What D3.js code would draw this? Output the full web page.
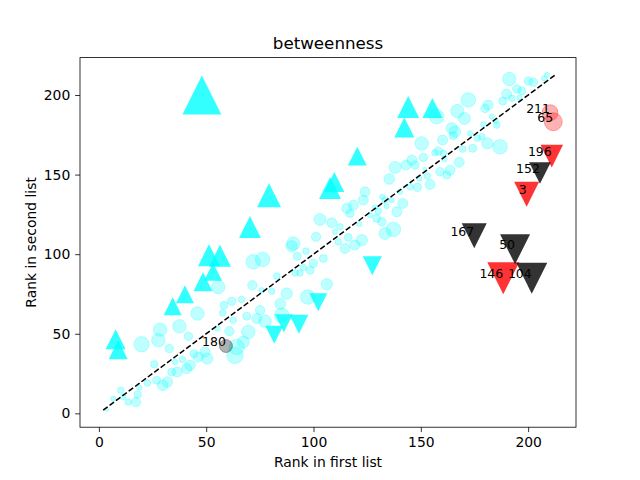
<!DOCTYPE html>
<html>
<head>
<meta charset="utf-8">
<script src="https://cdn.jsdelivr.net/npm/d3@7"></script>
<style>
  body { margin: 0; background: #fff; }
  text { font-family: "DejaVu Sans", sans-serif; }
</style>
</head>
<body>
<svg id="chart" width="640" height="480"></svg>
<script>
// [rank in first list, rank in second list, weight]
var circlePoints = [
  [45.9,62.7,45],[37.5,54.7,45],[28.5,52.6,45],[27.7,45.9,45],[19.9,43.4,59],[41.7,48.4,18],[32.8,40.7,18],
  [25.8,30.8,14],[22.6,19.1,11],[26.9,20.8,16],[29.7,17.6,28],[31.9,19.7,28],[33.9,26,16],[36.5,26,25],
  [35.5,32.3,7],[38.9,33.8,11],[40.9,28.1,25],[42.5,30.2,28],[44.3,37.5,16],[46.3,35.4,25],[49.4,38.6,25],
  [50.5,34.4,32],[10.2,14.5,11],[6.7,9.2,7],[11.4,10.3,9],[13.7,7.1,11],[17.3,7.1,22],[18.1,11.8,14],
  [18.8,16.2,7],[3.6,2.5,4],[57.7,63.1,11],
  [71.9,95.2,53],[76.3,96.7,53],[55.6,79.4,45],[58.3,67.9,16],[61.9,70.4,18],[66.5,71.5,11],[62.6,58.5,11],
  [68.9,61,16],[73.5,59.6,25],[77.4,57.9,40],[75.1,64.8,22],[82.9,86.2,11],[80.5,76.7,11],[84.5,68.8,30],
  [60.8,51.6,22],[69.6,51.1,45],[67.3,44.8,36],[64.2,41.7,59],[63.4,36.5,69],[55.2,53.3,7],
  [90.6,106.7,45],[89.8,105,32],[101.2,110.9,22],[92.4,98.7,16],[96.5,101.9,11],[104.6,97.3,16],
  [99.9,94.2,18],[98.4,89.9,16],[95.2,91.6,11],[93.7,88.2,11],[91.4,88.2,11],[106.2,81.1,32],
  [97.3,73.1,53],[87.5,75.3,32],[75.8,77.4,7],[71.5,80.5,22],[85.2,61.6,53],
  [150.4,169.6,45],[151.2,160.8,18],[145.8,159.1,25],[147.3,156,18],[143.1,156,25],[138,154.5,36],
  [135.3,147.2,28],[153,149.1,11],[149.3,147.6,7],[148.4,142,18],[145,142.3,11],[140.3,139.2,7],
  [141.6,131.9,25],[138.8,126.6,25],[136.4,134,7],[134.1,130.2,7],[133.3,134,11],[124,139.2,25],
  [123.2,134,25],[118.6,130.8,25],[115.5,128.7,25],[117,125.6,16],[126.3,124.5,7],[129.4,122.5,16],
  [131.8,120.3,18],[137.2,115.5,53],[133.3,113,36],[121.3,118.9,7],[112.3,117.2,11],[103,121.8,36],
  [108.5,119.7,25],[110,114,7],[116.2,110.5,16],[111.6,107.7,11],[114.7,103.6,25],[119.3,105.7,25],
  [122.5,108.8,32],
  [156.6,163.7,11],[160.5,163.3,11],[158.9,151.8,18],[162.1,149.7,16],[132,136,7],[128.7,129.4,7],[130.2,127,11],
  [191.2,210.1,45],[200.1,208.8,18],[202.4,208,18],[208.7,212.6,7],[207.4,210.5,7],[194.7,203.8,18],
  [197,202.5,16],[190,200.6,25],[188.2,196.2,16],[192.4,197.9,11],[195.9,198.3,7],[172.1,196.9,53],
  [181.4,193.7,25],[179.9,191.6,18],[167,189.9,45],[170.3,185.3,36],[157.4,186.4,53],[183,186.4,7],
  [185,183.6,7],[185.4,181.1,11],[179.1,181.6,7],[164.4,179.1,32],[165.9,176.9,32],[165.1,174.4,16],
  [172.9,175.9,7],[176.3,172.8,11],[178.4,173.8,11],[181,169.6,32],[186.9,167.5,53],[160.2,171.7,25],
  [158.1,164.8,18],[161,159.6,7],[169.5,166,11],[174.2,166.5,16],[167.9,157.7,25],[163.6,152.8,25],
  [154.3,143.8,25],[151.9,153.5,3]
];

var risePoints = [
  [48,200,380],[79.3,137,144],[70.4,117,121],[51.3,99.4,121],[56.4,99,121],[53.2,89,81],[48.5,82.7,90],
  [40.1,74.8,81],[34.4,67.3,81],[7.8,46.5,100],[9,40,90],[120.4,161.6,90],[107.7,141.5,121],
  [109.7,145.3,100],[144.1,192.5,121],[142.3,179.6,100],[155.4,191.8,100]
];

var fallPoints = [
  [127.4,92.8,90],[102.2,69.8,81],[81.7,49.4,81],[86.2,56.6,81],[93.2,56,90]
];

// labelled nodes
var flagLabels = ["196", "3", "146", "152", "167", "50", "104"];
var flagFirst  = [211, 199.3, 188.4, 205.5, 174.9, 193.9, 201.7];
var flagSecond = [161.6, 137.7, 84.9, 151, 111.6, 103.1, 84.9];
var flagWeight = [128, 156, 256, 118, 156, 225, 240];
var flagGroup  = ["a", "a", "a", "b", "b", "b", "b"];

var markLabels = ["211", "65", "180"];
var markFirst  = [210.2, 211.7, 59.2];
var markSecond = [188.9, 183.2, 42.3];
var markWeight = [64, 81, 42];
var markGroup  = ["a", "a", "b"];

var xTicks = [0, 50, 100, 150, 200];
var yTicks = [0, 50, 100, 150, 200];
var diagonal = [2, 212.5];

var svg = d3.select("#chart");
var margin = { top: 57.6, right: 64, bottom: 52.8, left: 80 },
    width = 640 - margin.left - margin.right,
    height = 480 - margin.top - margin.bottom;

var x = d3.scaleLinear().domain([-8.8, 222.3]).range([0, width]),
    y = d3.scaleLinear().domain([-8.7, 223.5]).range([height, 0]),
    size = d3.scaleSqrt().domain([0, 100]).range([0, 10]);

var groupColor = d3.scaleOrdinal().domain(["a", "b"]).range(["#ff0000", "#000000"]);

var g = svg.append("g")
    .attr("transform", "translate(" + margin.left + "," + margin.top + ")");

function triangle(cx, cy, h, up) {
  var s = up ? 1 : -1;
  return "M" + cx + "," + (cy - s * h) +
         "L" + (cx - h) + "," + (cy + s * h) +
         "L" + (cx + h) + "," + (cy + s * h) + "Z";
}

g.selectAll(".dot")
  .data(circlePoints)
  .enter().append("circle")
    .attr("class", "dot")
    .attr("cx", function(d) { return x(d[0]); })
    .attr("cy", function(d) { return y(d[1]); })
    .attr("r", function(d) { return size(d[2]); })
    .attr("fill", "#00ffff").attr("fill-opacity", 0.25)
    .attr("stroke", "#00ffff").attr("stroke-opacity", 0.25).attr("stroke-width", 1);

g.append("path")
    .attr("d", d3.line()([[x(diagonal[0]), y(diagonal[0])], [x(diagonal[1]), y(diagonal[1])]]))
    .attr("stroke", "#000").attr("stroke-width", 1.5)
    .attr("stroke-dasharray", "5.55,2.4").attr("fill", "none");

g.selectAll(".rise")
  .data(risePoints)
  .enter().append("path")
    .attr("class", "rise")
    .attr("d", function(d) { return triangle(x(d[0]), y(d[1]), size(d[2]), true); })
    .attr("fill", "#00ffff").attr("fill-opacity", 0.8);

g.selectAll(".fall")
  .data(fallPoints)
  .enter().append("path")
    .attr("class", "fall")
    .attr("d", function(d) { return triangle(x(d[0]), y(d[1]), size(d[2]), false); })
    .attr("fill", "#00ffff").attr("fill-opacity", 0.8);

var marks = markLabels.map(function(l, i) {
  return { label: l, a: markFirst[i], b: markSecond[i], w: markWeight[i], grp: markGroup[i] };
});
var flags = flagLabels.map(function(l, i) {
  return { label: l, a: flagFirst[i], b: flagSecond[i], w: flagWeight[i], grp: flagGroup[i] };
});

g.selectAll(".mark")
  .data(marks)
  .enter().append("circle")
    .attr("class", "mark")
    .attr("cx", function(d) { return x(d.a); })
    .attr("cy", function(d) { return y(d.b); })
    .attr("r", function(d) { return size(d.w); })
    .attr("fill", function(d) { return groupColor(d.grp); })
    .attr("fill-opacity", 0.3)
    .attr("stroke", function(d) { return groupColor(d.grp); })
    .attr("stroke-opacity", 0.3);

g.selectAll(".flag")
  .data(flags)
  .enter().append("path")
    .attr("class", "flag")
    .attr("d", function(d) { return triangle(x(d.a), y(d.b), size(d.w), false); })
    .attr("fill", function(d) { return groupColor(d.grp); })
    .attr("fill-opacity", 0.8);

g.selectAll(".lbl")
  .data(marks.concat(flags))
  .enter().append("text")
    .attr("class", "lbl")
    .attr("x", function(d) { return x(d.a); })
    .attr("y", function(d) { return y(d.b); })
    .attr("text-anchor", "end")
    .style("font-size", "12.5px")
    .text(function(d) { return d.label; });

var xAxis = g.append("g")
    .attr("transform", "translate(0," + height + ")")
    .call(d3.axisBottom(x).tickValues(xTicks).tickSize(4.86).tickPadding(4.86));
var yAxis = g.append("g")
    .call(d3.axisLeft(y).tickValues(yTicks).tickSize(4.86).tickPadding(4.86));

[xAxis, yAxis].forEach(function(a) {
  a.select(".domain").remove();
  a.selectAll("line").attr("stroke", "#000").attr("stroke-width", 0.8);
  a.selectAll("text").style("font-size", "13.9px").attr("fill", "#000")
    .style("font-family", "DejaVu Sans, sans-serif");
});

g.append("rect")
    .attr("width", width).attr("height", height)
    .attr("fill", "none").attr("stroke", "#000").attr("stroke-width", 0.8);

svg.append("text")
    .attr("x", margin.left + width / 2).attr("y", 49)
    .attr("text-anchor", "middle").style("font-size", "16.7px")
    .text("betweenness");

svg.append("text")
    .attr("x", margin.left + width / 2).attr("y", 467)
    .attr("text-anchor", "middle").style("font-size", "13.9px")
    .text("Rank in first list");

svg.append("text")
    .attr("transform", "translate(36," + (margin.top + height / 2) + ") rotate(-90)")
    .attr("text-anchor", "middle").style("font-size", "13.9px")
    .text("Rank in second list");
</script>
</body>
</html>
